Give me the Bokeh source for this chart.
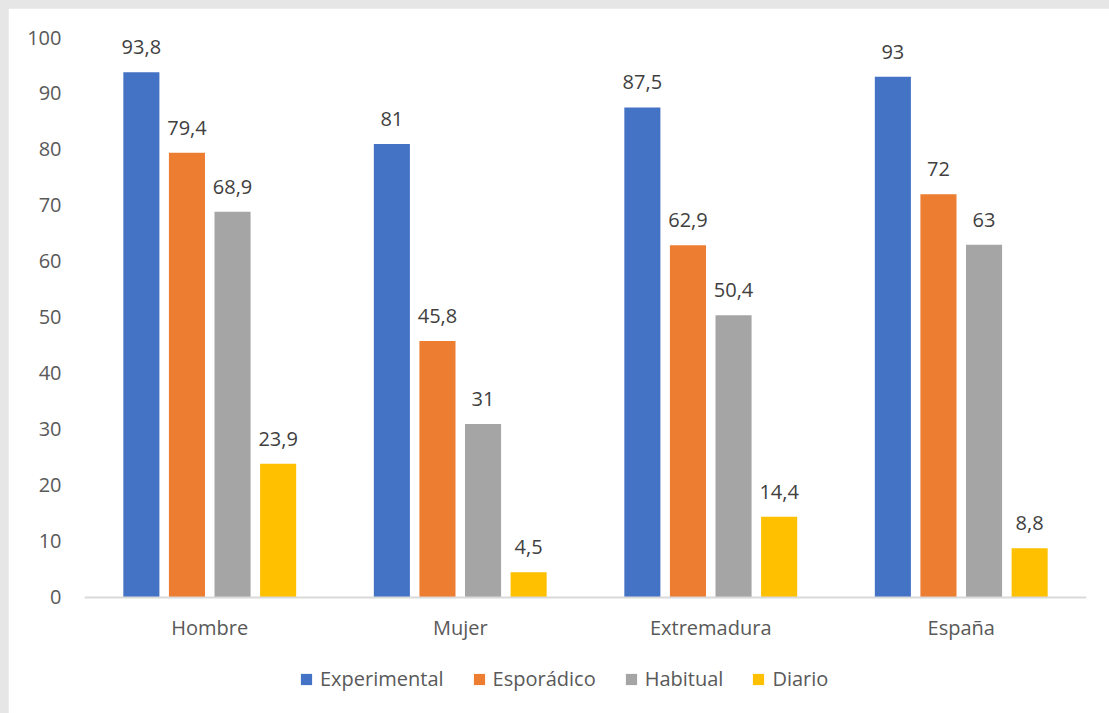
from bokeh.plotting import figure
from bokeh.models import (ColumnDataSource, FactorRange, Range1d, LabelSet, Legend,
                          LegendItem, GlobalInlineStyleSheet)
from bokeh.core.properties import value
from bokeh.transform import dodge
from bokeh.embed import file_html
from bokeh.resources import INLINE

categories = ["Hombre", "Mujer", "Extremadura", "España"]
series_names = ["Experimental", "Esporádico", "Habitual", "Diario"]
experimental = [93.8, 81, 87.5, 93]
esporadico = [79.4, 45.8, 62.9, 72]
habitual = [68.9, 31, 50.4, 63]
diario = [23.9, 4.5, 14.4, 8.8]
y_ticks = [0, 10, 20, 30, 40, 50, 60, 70, 80, 90, 100]

series_values = [experimental, esporadico, habitual, diario]
colors = ["#4472C4", "#ED7D31", "#A5A5A5", "#FFC000"]
offsets = [-0.273, -0.091, 0.091, 0.273]
FONT = "Open Sans"
TXT = "#595959"


def fmt(v):
    if float(v).is_integer():
        return str(int(v))
    return str(v).replace(".", ",")


sheet = GlobalInlineStyleSheet(
    css="html, body { background: #e7e6e6; overflow: hidden; } body { padding: 8px 0 0 8px !important; }")

# frame extends below zero so that the category labels and legend sit inside it
p = figure(x_range=FactorRange(*categories), y_range=Range1d(-19.29, 100),
           frame_width=1002, frame_height=668, output_backend="svg", toolbar_location=None,
           min_border_left=76, min_border_right=23, min_border_top=29, min_border_bottom=8,
           stylesheets=[sheet])
p.background_fill_color = "white"
p.border_fill_color = "white"
p.outline_line_color = "white"
p.outline_line_width = 2
p.xgrid.grid_line_color = None
p.ygrid.grid_line_color = None

items = []
for name, vals, col, off in zip(series_names, series_values, colors, offsets):
    src = ColumnDataSource(dict(cat=categories, val=vals, lab=[fmt(v) for v in vals]))
    r = p.vbar(x=dodge("cat", off, range=p.x_range), top="val", width=0.144, source=src,
               fill_color=col, line_color=None)
    items.append(LegendItem(label=name, renderers=[r]))
    labels = LabelSet(x=dodge("cat", off, range=p.x_range), y="val", text="lab", source=src,
                      text_align="center", text_baseline="middle", y_offset=25,
                      text_font=value(FONT), text_font_size="20px", text_color="#404040")
    p.add_layout(labels)

p.yaxis.ticker = y_ticks
p.yaxis.axis_line_color = None
p.yaxis.major_tick_line_color = None
p.yaxis.major_tick_out = 0
p.yaxis.major_tick_in = 0
p.yaxis.minor_tick_line_color = None
p.yaxis.major_label_standoff = 23
p.yaxis.major_label_text_font = FONT
p.yaxis.major_label_text_font_size = "20px"
p.yaxis.major_label_text_color = TXT

p.xaxis.fixed_location = 0
p.xaxis.axis_line_color = "#D9D9D9"
p.xaxis.axis_line_width = 2
p.xaxis.major_tick_line_color = None
p.xaxis.major_tick_out = 0
p.xaxis.major_tick_in = 0
p.xaxis.minor_tick_line_color = None
p.xaxis.major_label_standoff = 17
p.xaxis.major_label_text_font = FONT
p.xaxis.major_label_text_font_size = "20px"
p.xaxis.major_label_text_color = TXT

legend = Legend(items=items, orientation="horizontal", location=(215, 13),
                glyph_width=14, glyph_height=14, label_standoff=7, spacing=28,
                padding=0, margin=0, border_line_color=None, background_fill_alpha=0,
                label_text_font=FONT, label_text_font_size="20px", label_text_color=TXT)
p.add_layout(legend)

open("out.html", "w").write(file_html(p, INLINE))
